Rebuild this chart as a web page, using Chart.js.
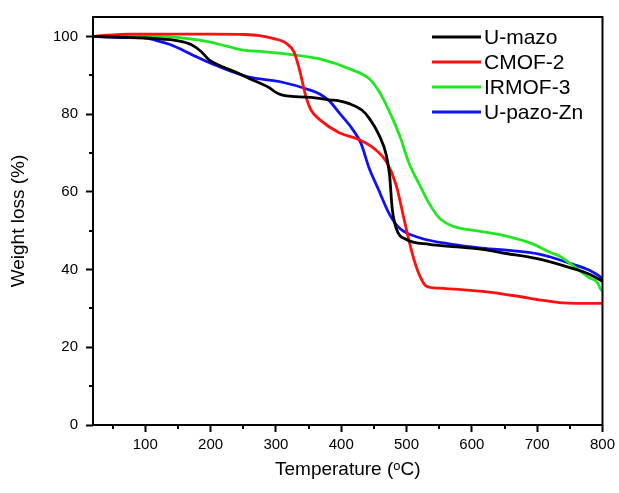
<!DOCTYPE html>
<html>
<head>
<meta charset="utf-8">
<script src="https://cdn.jsdelivr.net/npm/chart.js@4"></script>
<style>
  html, body { margin: 0; padding: 0; background: #fff; }
</style>
</head>
<body>
<canvas id="tga" width="619" height="493"></canvas>
<script>
/* TGA curves - weight loss vs temperature */

// tick values
const xTicks = [100, 200, 300, 400, 500, 600, 700, 800];
const xMinor = [50, 150, 250, 350, 450, 550, 650, 750];
const yTicks = [0, 20, 40, 60, 80, 100];
const yMinor = [10, 30, 50, 70, 90];

// U-mazo
const mazoT = [20, 60, 100, 126, 152, 170, 185, 198, 213, 244, 259, 275, 290, 300, 310, 330, 360, 382, 400, 412, 432, 443, 458, 469, 474, 478, 484, 499, 535, 570, 611, 650, 700, 750, 780, 800];
const mazoW = [100, 99.8, 99.6, 99.3, 98.8, 97.9, 96.2, 93.9, 92.6, 90.4, 89.2, 88, 86.8, 85.6, 84.9, 84.5, 84.2, 83.7, 83.3, 82.7, 81, 78.9, 74.6, 69.5, 64.4, 55.8, 50.7, 47.8, 46.5, 45.9, 45.3, 44.2, 42.8, 40.5, 38.8, 37];

// CMOF-2
const cmofT = [25, 75, 100, 150, 200, 254, 275, 295, 316, 328, 336, 346, 354, 367, 397, 428, 453, 469, 484, 497, 509, 520, 530, 550, 580, 616, 668, 703, 734, 760, 800];
const cmofW = [100.1, 100.6, 100.6, 100.6, 100.6, 100.5, 100.2, 99.5, 98.2, 95.9, 91.5, 84.5, 81, 78.6, 75.2, 73.4, 70.8, 67.8, 61.8, 52.4, 44, 38.5, 35.8, 35.2, 34.9, 34.4, 33.2, 32.2, 31.5, 31.3, 31.3];

// IRMOF-3
const irmofT = [20, 60, 116, 167, 198, 229, 254, 280, 331, 367, 417, 443, 458, 474, 489, 504, 520, 535, 550, 570, 611, 653, 693, 719, 734, 759, 780, 792, 797, 800];
const irmofW = [100, 100, 100, 99.4, 98.6, 97.3, 96.4, 96.1, 95.2, 94.2, 91.4, 89.1, 85.8, 80.6, 74.7, 67.3, 61.8, 56.9, 53.3, 51.2, 49.9, 48.6, 46.6, 44.5, 43.5, 40.5, 37.9, 36.7, 35, 34.5];

// U-pazo-Zn
const pazoT = [20, 65, 101, 116, 137, 157, 178, 203, 229, 259, 305, 356, 367, 382, 397, 417, 430, 443, 456, 474, 489, 520, 570, 611, 653, 703, 719, 754, 780, 798, 800];
const pazoW = [100, 99.7, 99.6, 99, 98, 96.5, 94.8, 92.9, 91.2, 89.5, 88.4, 86, 85.2, 83.4, 80.3, 76.2, 72.6, 66, 61, 54.2, 50.7, 48.2, 46.5, 45.6, 45, 44, 43.3, 41.4, 39.8, 37.9, 37.5];

const seriesNames = ['U-mazo', 'CMOF-2', 'IRMOF-3', 'U-pazo-Zn'];
const seriesColors = ['#000000', '#ff1010', '#22e622', '#1010f5'];

const FONT = 'Liberation Sans, Arial, sans-serif';

const toPoints = (xs, ys) => xs.map((x, i) => ({ x: x, y: ys[i] }));

const allSeries = [
    toPoints(mazoT, mazoW),
    toPoints(cmofT, cmofW),
    toPoints(irmofT, irmofW),
    toPoints(pazoT, pazoW)
];

// frame, minor ticks and inner legend
const framePlugin = {
    id: 'frame',
    afterDatasetsDraw(chart) {
        const { ctx, chartArea: a, scales } = chart;
        ctx.save();
        ctx.strokeStyle = '#000';
        ctx.lineWidth = 2;
        ctx.strokeRect(a.left, a.top, a.right - a.left, a.bottom - a.top);

        // minor ticks
        ctx.beginPath();
        xMinor.forEach(v => {
            const px = Math.round(scales.x.getPixelForValue(v));
            ctx.moveTo(px, a.bottom);
            ctx.lineTo(px, a.bottom + 4);
        });
        yMinor.forEach(v => {
            const py = Math.round(scales.y.getPixelForValue(v));
            ctx.moveTo(a.left, py);
            ctx.lineTo(a.left - 4, py);
        });
        ctx.stroke();

        // legend
        ctx.font = '21px ' + FONT;
        ctx.textBaseline = 'middle';
        ctx.textAlign = 'left';
        chart.data.datasets.forEach((ds, i) => {
            const y = 37 + i * 25;
            ctx.strokeStyle = ds.borderColor;
            ctx.lineWidth = 3;
            ctx.beginPath();
            ctx.moveTo(432, y);
            ctx.lineTo(481, y);
            ctx.stroke();
            ctx.fillStyle = '#000';
            ctx.fillText(ds.label, 484, y + 1);
        });
        ctx.restore();
    }
};

new Chart(document.getElementById('tga'), {
    type: 'line',
    data: {
        datasets: allSeries.map((pts, i) => ({
            label: seriesNames[i],
            data: pts,
            borderColor: seriesColors[i],
            borderWidth: 2.8,
            pointRadius: 0,
            fill: false,
            cubicInterpolationMode: 'monotone'
        }))
    },
    options: {
        responsive: false,
        animation: false,
        layout: {
            padding: { left: 0, right: 16, top: 15, bottom: 0 }
        },
        plugins: {
            legend: { display: false },
            tooltip: { enabled: false }
        },
        scales: {
            x: {
                type: 'linear',
                min: 20,
                max: 800,
                afterBuildTicks: (scale) => {
                    scale.ticks = xTicks.map(v => ({ value: v }));
                },
                afterFit: (scale) => { scale.height = 68; },
                border: { display: false },
                grid: {
                    drawOnChartArea: false,
                    tickLength: 7,
                    tickWidth: 2,
                    tickColor: '#000'
                },
                ticks: {
                    color: '#000',
                    padding: 4,
                    maxRotation: 0,
                    autoSkip: false,
                    font: { family: FONT, size: 15 }
                },
                title: {
                    display: true,
                    text: 'Temperature (ᵒC)',
                    color: '#000',
                    font: { family: FONT, size: 19 },
                    padding: { top: 0, bottom: 12 }
                }
            },
            y: {
                min: 0,
                max: 105,
                afterBuildTicks: (scale) => {
                    scale.ticks = yTicks.map(v => ({ value: v }));
                },
                afterFit: (scale) => { scale.width = 93; },
                border: { display: false },
                grid: {
                    drawOnChartArea: false,
                    tickLength: 7,
                    tickWidth: 2,
                    tickColor: '#000'
                },
                ticks: {
                    color: '#000',
                    padding: 8,
                    font: { family: FONT, size: 15 }
                },
                title: {
                    display: true,
                    text: 'Weight loss (%)',
                    color: '#000',
                    font: { family: FONT, size: 19 },
                    padding: { top: 7, bottom: 0 }
                }
            }
        }
    },
    plugins: [framePlugin]
});
</script>
</body>
</html>
